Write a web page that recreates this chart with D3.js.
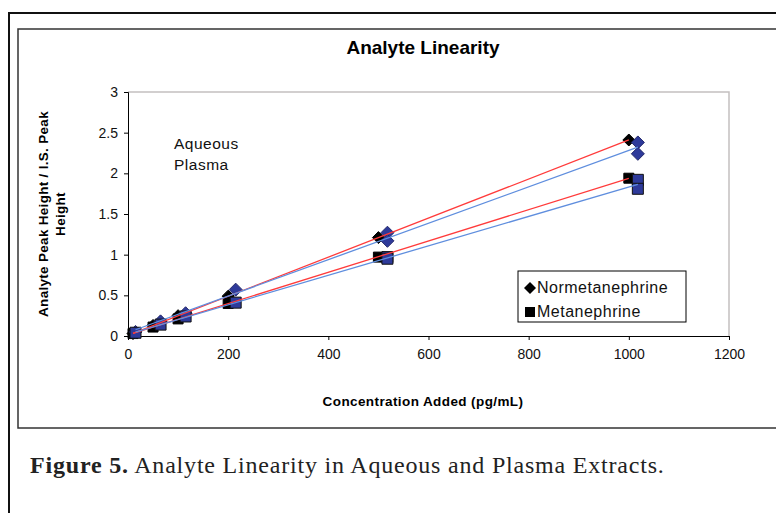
<!DOCTYPE html>
<html><head><meta charset="utf-8">
<script src="https://cdn.jsdelivr.net/npm/d3@7/dist/d3.min.js"></script>
<style>
html,body{margin:0;padding:0;background:#fff;}
svg{display:block;}
</style></head>
<body>
<svg id="c" width="776" height="513"></svg>
<script>
// ---- data ----
const xTicks = [0, 200, 400, 600, 800, 1000, 1200];
const yTicks = [0, 0.5, 1, 1.5, 2, 2.5, 3];
const yTickLabels = ["0", "0.5", "1", "1.5", "2", "2.5", "3"];

const aqNormX = [10, 50, 100, 200, 500, 1000];
const aqNormY = [0.03, 0.13, 0.25, 0.49, 1.21, 2.41];
const aqMetX  = [10, 50, 100, 200, 500, 1000];
const aqMetY  = [0.03, 0.11, 0.21, 0.40, 0.97, 1.94];
const plNormX = [15, 65, 115, 215, 518, 518, 1018, 1018];
const plNormY = [0.05, 0.18, 0.28, 0.57, 1.27, 1.17, 2.38, 2.24];
const plMetX  = [15, 65, 115, 215, 518, 518, 1018, 1018];
const plMetY  = [0.04, 0.14, 0.24, 0.41, 0.97, 0.95, 1.92, 1.81];

const legendLabels = ["Normetanephrine", "Metanephrine"];
const noteLabels = ["Aqueous", "Plasma"];

const svg = d3.select("#c");
const sans = "'Liberation Sans', Arial, sans-serif";

// frames
svg.append("line").attr("x1", 9).attr("x2", 776).attr("y1", 13).attr("y2", 13).attr("stroke", "#111").attr("stroke-width", 2);
svg.append("line").attr("x1", 9).attr("x2", 9).attr("y1", 12).attr("y2", 513).attr("stroke", "#111").attr("stroke-width", 2);
svg.append("rect").attr("x", 18).attr("y", 29).attr("width", 780).attr("height", 399)
  .attr("fill", "none").attr("stroke", "#333").attr("stroke-width", 1.5);

const x = d3.scaleLinear().domain([0, 1200]).range([128, 729]);
const y = d3.scaleLinear().domain([0, 3]).range([336, 92]);

// plot area border (top/right gray)
svg.append("path").attr("d", `M${x(0)},${y(3)}H${x(1200)}V${y(0)}`).attr("fill", "none").attr("stroke", "#c4c0c0").attr("stroke-width", 1.5);

// axes
const xAxis = svg.append("g").attr("transform", `translate(0,${y(0)})`)
  .call(d3.axisBottom(x).tickValues(xTicks).tickSize(4).tickPadding(9).tickFormat(d3.format("d")));
const yAxis = svg.append("g").attr("transform", `translate(${x(0)},0)`)
  .call(d3.axisLeft(y).tickValues(yTicks).tickSize(4).tickPadding(6).tickFormat((d, i) => yTickLabels[i]));
[xAxis, yAxis].forEach(g => {
  g.selectAll("path,line").attr("stroke", "#000").attr("stroke-width", 1);
  g.selectAll("text").attr("font-family", sans).attr("font-size", 14).attr("fill", "#111");
});

// title & labels
svg.append("text").attr("x", 423).attr("y", 54).attr("text-anchor", "middle")
  .attr("font-family", sans).attr("font-weight", "bold").attr("font-size", 19).text("Analyte Linearity");
svg.append("text").attr("x", 423).attr("y", 406).attr("text-anchor", "middle")
  .attr("font-family", sans).attr("font-weight", "bold").attr("font-size", 13.5).attr("letter-spacing", 0.4)
  .text("Concentration Added (pg/mL)");
const yl = svg.append("text").attr("transform", "translate(48,214) rotate(-90)").attr("text-anchor", "middle")
  .attr("font-family", sans).attr("font-weight", "bold").attr("font-size", 13.5).attr("letter-spacing", 0.3);
yl.append("tspan").attr("x", 0).attr("y", 0).text("Analyte Peak Height / I.S. Peak");
yl.append("tspan").attr("x", 0).attr("y", 17).text("Height");

// note
noteLabels.forEach((t, i) => {
  svg.append("text").attr("x", 174).attr("y", 149 + i * 21).attr("font-family", sans)
    .attr("font-size", 15.5).attr("letter-spacing", 0.5).attr("fill", "#111").text(t);
});

// markers
const diamondPath = r => `M0,${-r}L${r},0L0,${r}L${-r},0Z`;
const squarePath = s => `M${-s / 2},${-s / 2}h${s}v${s}h${-s}Z`;
function pts(xs, ys) { return xs.map((v, i) => [v, ys[i]]); }
function markers(data, dpath, fill, stroke) {
  svg.append("g").selectAll("path").data(data).join("path")
    .attr("transform", d => `translate(${x(d[0])},${y(d[1])})`)
    .attr("d", dpath).attr("fill", fill).attr("stroke", stroke).attr("stroke-width", 1);
}
markers(pts(aqNormX, aqNormY), diamondPath(6), "#000", "#000");
markers(pts(aqMetX, aqMetY), squarePath(10), "#000", "#000");
markers(pts(plNormX, plNormY), diamondPath(6.5), "#2e3a9a", "#23286a");
markers(pts(plMetX, plMetY), squarePath(11), "#2e3a9a", "#111");

// trend lines (least squares from data)
function fit(xs, ys) {
  const n = xs.length, mx = d3.mean(xs), my = d3.mean(ys);
  let sxy = 0, sxx = 0;
  for (let i = 0; i < n; i++) { sxy += (xs[i] - mx) * (ys[i] - my); sxx += (xs[i] - mx) ** 2; }
  const b = sxy / sxx, a = my - b * mx;
  const x0 = d3.min(xs), x1 = d3.max(xs);
  return [[x0, a + b * x0], [x1, a + b * x1]];
}
function trend(xs, ys, color) {
  const p = fit(xs, ys);
  svg.append("line").attr("x1", x(p[0][0])).attr("y1", y(p[0][1])).attr("x2", x(p[1][0])).attr("y2", y(p[1][1]))
    .attr("stroke", color).attr("stroke-width", 1.3);
}
trend(aqNormX, aqNormY, "#ff3b3b");
trend(aqMetX, aqMetY, "#ff3b3b");
trend(plNormX, plNormY, "#5f8ede");
trend(plMetX, plMetY, "#5f8ede");

// legend
svg.append("rect").attr("x", 518).attr("y", 271).attr("width", 168).attr("height", 51)
  .attr("fill", "#fff").attr("stroke", "#000").attr("stroke-width", 1);
[diamondPath(6), squarePath(10)].forEach((p, i) => {
  svg.append("path").attr("transform", `translate(530,${288 + i * 24})`).attr("d", p).attr("fill", "#000");
  svg.append("text").attr("x", 537).attr("y", 293 + i * 24).attr("font-family", sans).attr("font-size", 16)
    .attr("letter-spacing", 0.5).attr("fill", "#111").text(legendLabels[i]);
});

// caption
const cap = svg.append("text").attr("x", 30).attr("y", 473).attr("font-family", "'Liberation Serif', 'DejaVu Serif', serif")
  .attr("font-size", 24).attr("letter-spacing", 0.8).attr("fill", "#222");
cap.append("tspan").attr("font-weight", "bold").text("Figure 5.");
cap.append("tspan").text(" Analyte Linearity in Aqueous and Plasma Extracts.");
</script>
</body></html>
